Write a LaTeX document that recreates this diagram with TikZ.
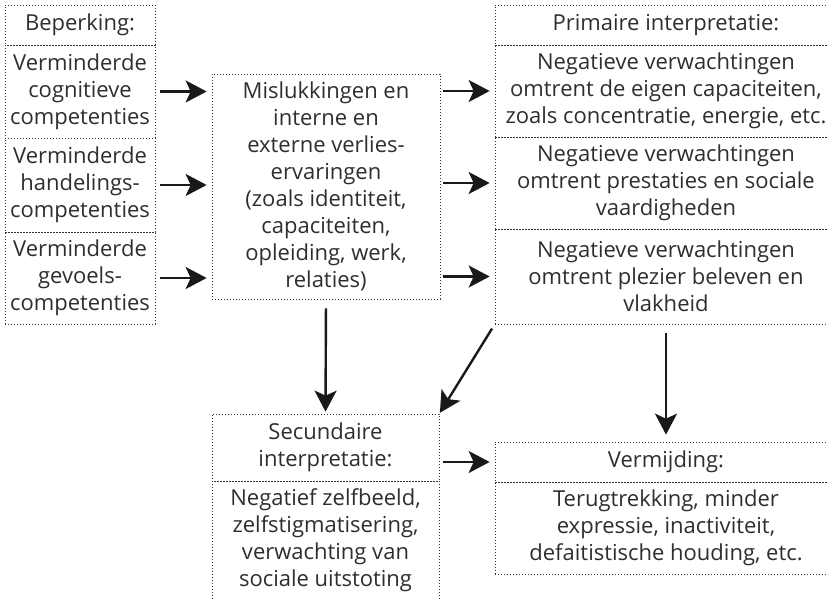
\documentclass[tikz,border=0pt]{standalone}
\usepackage{fontspec}
\setmainfont{Open Sans}
\usepackage{xcolor}
\usepackage{tikz}
\usetikzlibrary{arrows.meta,positioning}

\definecolor{inkgray}{HTML}{2E2E2E}

\begin{document}
\begin{tikzpicture}[
    x=1pt, y=-1pt,
    box/.style={draw=inkgray, line width=0.7pt, dash pattern=on 0.8pt off 2.2pt,
        inner sep=0pt, align=center, text=inkgray,
        font=\fontsize{22}{27}\selectfont},
    arrow/.style={-{Stealth[length=21pt,width=22pt,inset=5pt]}, line width=2.4pt, draw=black!90}
]
    \useasboundingbox (0,0) rectangle (828,599);

    % Beperking
    \node[box, minimum width=150pt, minimum height=40pt] (beperk) at (80,25) {Beperking:};
    \node[box, minimum width=150pt, minimum height=93pt] (cogn) at (80,91.5) {Verminderde\\cognitieve\\competenties};
    \node[box, minimum width=150pt, minimum height=94pt] (hand) at (80,185) {Verminderde\\handelings-\\competenties};
    \node[box, minimum width=150pt, minimum height=92pt] (gevoel) at (80,278) {Verminderde\\gevoels-\\competenties};

    % Mislukkingen
    \node[box, minimum width=228pt, minimum height=225pt] (mislukk) at (326,186.5) {Mislukkingen en\\interne en\\externe verlies-\\ervaringen\\(zoals identiteit,\\capaciteiten,\\opleiding, werk,\\relaties)};

    % Primaire interpretatie
    \node[box, minimum width=342pt, minimum height=40pt] (primair) at (666,25) {Primaire interpretatie:};
    \node[box, minimum width=342pt, minimum height=92pt] (negcap) at (666,91) {Negatieve verwachtingen\\omtrent de eigen capaciteiten,\\zoals concentratie, energie, etc.};
    \node[box, minimum width=342pt, minimum height=92pt] (negprest) at (666,183) {Negatieve verwachtingen\\omtrent prestaties en sociale\\vaardigheden};
    \node[box, minimum width=342pt, minimum height=95pt] (negplez) at (666,276.5) {Negatieve verwachtingen\\omtrent plezier beleven en\\vlakheid};

    % Secundaire interpretatie
    \node[box, minimum width=227pt, minimum height=67pt] (secund) at (325.5,447.5) {Secundaire\\interpretatie:};
    \node[box, minimum width=227pt, minimum height=119pt] (zelfbeeld) at (325.5,540.5) {Negatief zelfbeeld,\\zelfstigmatisering,\\verwachting van\\sociale uitstoting};

    % Vermijding
    \node[box, minimum width=342pt, minimum height=40pt] (vermijd) at (666,462) {Vermijding:};
    \node[box, minimum width=342pt, minimum height=92pt] (terug) at (666,528) {Terugtrekking, minder\\expressie, inactiviteit,\\defaitistische houding, etc.};

    % Arrows
    \draw[arrow, shorten <=5pt, shorten >=5pt] (cogn.east) -- (cogn.east -| mislukk.west);
    \draw[arrow, shorten <=5pt, shorten >=5pt] (hand.east) -- (hand.east -| mislukk.west);
    \draw[arrow, shorten <=5pt, shorten >=5pt] (gevoel.east) -- (gevoel.east -| mislukk.west);
    \draw[arrow, shorten <=3pt, shorten >=5pt] (mislukk.east |- negcap.west) -- (negcap.west);
    \draw[arrow, shorten <=3pt, shorten >=5pt] (mislukk.east |- negprest.west) -- (negprest.west);
    \draw[arrow, shorten <=3pt, shorten >=5pt] (mislukk.east |- negplez.west) -- (negplez.west);
    \draw[arrow, shorten <=9pt, shorten >=2pt] (mislukk.south) -- (secund.north);
    \draw[arrow, shorten <=5pt, shorten >=1pt] (negplez.south west) -- (secund.north east);
    \draw[arrow, shorten <=9pt, shorten >=7pt] (negplez.south) -- (vermijd.north);
    \draw[arrow, shorten <=4pt, shorten >=5pt] (secund.east |- vermijd.west) -- (vermijd.west);

\end{tikzpicture}
\end{document}
